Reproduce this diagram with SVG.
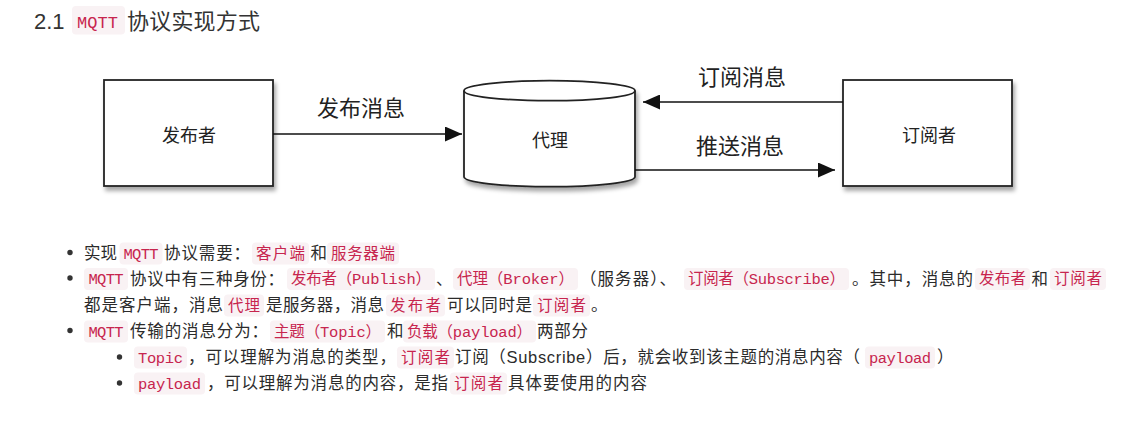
<svg xmlns="http://www.w3.org/2000/svg" width="1130" height="428" viewBox="0 0 1130 428">
<defs>
<style>
.t{font-family:"Liberation Sans","Noto Sans CJK SC",sans-serif;font-size:16.5px;fill:#2b2b2b}
.c{font-family:"Liberation Mono","Noto Sans CJK SC",monospace;font-size:15.5px;fill:#c7254e}
.cb{fill:#f9f2f4}
.bul{fill:#333}
.node{fill:#fff;stroke:#222;stroke-width:1.8}
.nl{font-family:"Liberation Sans","Noto Sans CJK SC",sans-serif;font-size:18px;fill:#222;text-anchor:middle}
.el{font-family:"Liberation Sans","Noto Sans CJK SC",sans-serif;font-size:22px;fill:#222;text-anchor:middle}
.edge{stroke:#111;stroke-width:1.6;fill:none}
</style>
<filter id="sh" x="-10%" y="-10%" width="130%" height="140%">
<feDropShadow dx="2" dy="4" stdDeviation="2.2" flood-color="#000" flood-opacity="0.35"/>
</filter>
<marker id="ah" viewBox="0 0 17 15" refX="17" refY="7.5" markerWidth="17" markerHeight="15" markerUnits="userSpaceOnUse" orient="auto">
<path d="M0,0 L17,7.5 L0,15 Z" fill="#111"/>
</marker>
</defs>
<rect width="1130" height="428" fill="#fff"/>

<g id="title">
<text x="34" y="28.5" style="font-family:'Liberation Sans',sans-serif;font-size:22px;fill:#333">2.1</text>
<rect class="cb" x="72" y="6" width="53" height="28.5" rx="4"/>
<text x="77" y="28.3" style="font-family:'Liberation Mono',monospace;font-size:17px;fill:#c7254e" textLength="41">MQTT</text>
<text x="127" y="29" style="font-family:'Liberation Sans','Noto Sans CJK SC',sans-serif;font-size:22px;fill:#333" textLength="133">协议实现方式</text>
</g>

<g id="publisher" filter="url(#sh)">
<rect class="node" x="104" y="80" width="169" height="106"/>
</g>
<g id="publisher-label"><text class="nl" x="189" y="141.5">发布者</text></g>

<g id="broker">
<g filter="url(#sh)">
<path class="node" d="M464,90.7 L464,176.7 A85.5,10 0 0 0 635,176.7 L635,90.7 A85.5,10 0 0 0 464,90.7 Z"/>
</g>
<path class="node" style="fill:none" d="M464,90.7 A85.5,10 0 0 0 635,90.7"/>
<text class="nl" x="550" y="147.3">代理</text>
</g>

<g id="subscriber" filter="url(#sh)">
<rect class="node" x="843" y="80" width="169" height="106"/>
</g>
<g id="subscriber-label"><text class="nl" x="929" y="141.5">订阅者</text></g>

<g id="connectors">
<line class="edge" x1="273" y1="134" x2="462" y2="134" marker-end="url(#ah)"/>
<line class="edge" x1="843" y1="102" x2="643" y2="102" marker-end="url(#ah)"/>
<line class="edge" x1="635" y1="170" x2="835" y2="170" marker-end="url(#ah)"/>
<text class="el" x="361" y="116">发布消息</text>
<text class="el" x="742" y="84.5">订阅消息</text>
<text class="el" x="740" y="154">推送消息</text>
</g>

<g id="text">
<!-- line 1 -->
<circle class="bul" cx="70" cy="252.5" r="2.7"/>
<text class="t" x="84" y="259" textLength="33">实现</text>
<rect class="cb" x="119.5" y="242.5" width="43" height="22" rx="4"/>
<text class="c" x="123.5" y="258.5" textLength="35">MQTT</text>
<text class="t" x="164" y="259" textLength="86">协议需要：</text>
<rect class="cb" x="252" y="242.5" width="57" height="22" rx="4"/>
<text class="c" x="256" y="258.5" textLength="49">客户端</text>
<text class="t" x="310.5" y="259" textLength="16">和</text>
<rect class="cb" x="327" y="242.5" width="72" height="22" rx="4"/>
<text class="c" x="331" y="258.5" textLength="64">服务器端</text>

<!-- line 2 -->
<circle class="bul" cx="70" cy="278" r="2.7"/>
<rect class="cb" x="84" y="268" width="44" height="22" rx="4"/>
<text class="c" x="88.5" y="284" textLength="35">MQTT</text>
<text class="t" x="130" y="284.5" textLength="154">协议中有三种身份：</text>
<rect class="cb" x="287" y="268" width="148" height="22" rx="4"/>
<text class="c" x="291" y="284" textLength="140">发布者（Publish）</text>
<text class="t" x="436" y="284.5" textLength="16">、</text>
<rect class="cb" x="453" y="268" width="125" height="22" rx="4"/>
<text class="c" x="457" y="284" textLength="117">代理（Broker）</text>
<text class="t" x="580" y="284.5" textLength="96">（服务器）、</text>
<rect class="cb" x="684" y="268" width="165" height="22" rx="4"/>
<text class="c" x="688" y="284" textLength="157">订阅者（Subscribe）</text>
<text class="t" x="852" y="284.5" textLength="121">。其中，消息的</text>
<rect class="cb" x="975" y="268" width="55" height="22" rx="4"/>
<text class="c" x="979" y="284" textLength="47">发布者</text>
<text class="t" x="1031.5" y="284.5" textLength="16">和</text>
<rect class="cb" x="1050" y="268" width="56" height="22" rx="4"/>
<text class="c" x="1054" y="284" textLength="48">订阅者</text>

<!-- line 3 -->
<text class="t" x="84" y="311" textLength="139">都是客户端，消息</text>
<rect class="cb" x="224" y="294.5" width="40" height="22" rx="4"/>
<text class="c" x="228" y="310.5" textLength="32">代理</text>
<text class="t" x="266" y="311" textLength="118">是服务器，消息</text>
<rect class="cb" x="386" y="294.5" width="59" height="22" rx="4"/>
<text class="c" x="390" y="310.5" textLength="51">发布者</text>
<text class="t" x="447" y="311" textLength="85">可以同时是</text>
<rect class="cb" x="533" y="294.5" width="57" height="22" rx="4"/>
<text class="c" x="537" y="310.5" textLength="49">订阅者</text>
<text class="t" x="591" y="311" textLength="16">。</text>

<!-- line 4 -->
<circle class="bul" cx="70" cy="330.5" r="2.7"/>
<rect class="cb" x="84" y="320.5" width="44" height="22" rx="4"/>
<text class="c" x="88.5" y="336.5" textLength="35">MQTT</text>
<text class="t" x="130" y="337" textLength="138">传输的消息分为：</text>
<rect class="cb" x="270" y="320.5" width="115" height="22" rx="4"/>
<text class="c" x="274" y="336.5" textLength="107">主题（Topic）</text>
<text class="t" x="387" y="337" textLength="15">和</text>
<rect class="cb" x="403" y="320.5" width="133" height="22" rx="4"/>
<text class="c" x="407" y="336.5" textLength="125">负载（payload）</text>
<text class="t" x="537" y="337" textLength="51">两部分</text>

<!-- line 5 -->
<circle class="bul" cx="119.5" cy="357" r="2.7"/>
<rect class="cb" x="134" y="346.5" width="53" height="22" rx="4"/>
<text class="c" x="138" y="362.5" textLength="45">Topic</text>
<text class="t" x="188" y="363" textLength="208">，可以理解为消息的类型，</text>
<rect class="cb" x="397" y="346.5" width="57" height="22" rx="4"/>
<text class="c" x="401" y="362.5" textLength="49">订阅者</text>
<text class="t" x="455" y="363" textLength="405">订阅（Subscribe）后，就会收到该主题的消息内容（</text>
<rect class="cb" x="865" y="346.5" width="70" height="22" rx="4"/>
<text class="c" x="869" y="362.5" textLength="62">payload</text>
<text class="t" x="937" y="363" textLength="16">）</text>

<!-- line 6 -->
<circle class="bul" cx="119.5" cy="383" r="2.7"/>
<rect class="cb" x="134" y="372.5" width="71" height="22" rx="4"/>
<text class="c" x="138" y="388.5" textLength="63">payload</text>
<text class="t" x="207" y="389" textLength="241">，可以理解为消息的内容，是指</text>
<rect class="cb" x="450" y="372.5" width="57" height="22" rx="4"/>
<text class="c" x="454" y="388.5" textLength="49">订阅者</text>
<text class="t" x="508" y="389" textLength="139">具体要使用的内容</text>
</g>
</svg>
